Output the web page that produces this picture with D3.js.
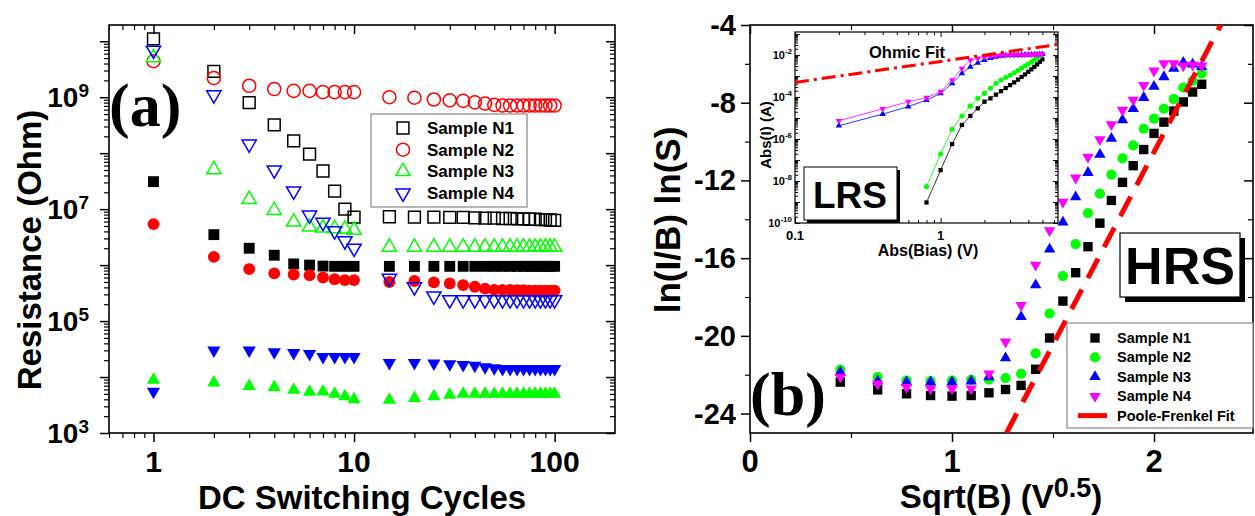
<!DOCTYPE html>
<html>
<head>
<meta charset="utf-8">
<script src="https://cdnjs.cloudflare.com/ajax/libs/d3/7.8.5/d3.min.js"></script>
<style>
body { margin: 0; background: #fff; }
text { font-family: "Liberation Sans", Arial, sans-serif; font-weight: bold; fill: #000; }
</style>
</head>
<body>
<svg id="fig" width="1255" height="516"></svg>
<script>
// ---------- panel (a) data : resistance vs DC switching cycles ----------
var cycles = [1,2,3,4,5,6,7,8,9,10,15,20,25,30,35,40,45,50,55,60,65,70,75,80,85,90,95,100];

var n1Hrs = [1.1e10,2.9e9,8e8,3.2e8,1.66e8,9.6e7,4.8e7,2.1e7,1.0e7,7.2e6,7.3e6,7.2e6,7.2e6,7.1e6,7.1e6,7.0e6,6.9e6,6.9e6,6.8e6,6.8e6,6.7e6,6.7e6,6.6e6,6.6e6,6.5e6,6.5e6,6.4e6,6.3e6];
var n1Lrs = [3.1e7,3.5e6,2.0e6,1.5e6,1.05e6,1.0e6,9.6e5,9.5e5,9.5e5,9.5e5,9.5e5,9.5e5,9.5e5,9.5e5,9.5e5,9.5e5,9.5e5,9.5e5,9.5e5,9.5e5,9.5e5,9.5e5,9.5e5,9.5e5,9.5e5,9.5e5,9.5e5,9.5e5];
var n2Hrs = [4.4e9,2.2e9,1.6e9,1.4e9,1.3e9,1.3e9,1.23e9,1.23e9,1.23e9,1.23e9,1.0e9,9.8e8,9.1e8,8.8e8,8.6e8,8.1e8,7.7e8,7.3e8,7.1e8,7.1e8,7.1e8,7.1e8,7.1e8,7.1e8,7.1e8,7.1e8,7.1e8,7.1e8];
var n2Lrs = [5.4e6,1.4e6,8.5e5,7.1e5,6.8e5,6.6e5,6.0e5,5.6e5,5.4e5,5.4e5,5.0e5,5.2e5,4.9e5,4.7e5,4.4e5,4.1e5,3.8e5,3.6e5,3.6e5,3.6e5,3.55e5,3.55e5,3.5e5,3.5e5,3.5e5,3.5e5,3.5e5,3.5e5];
var n3Hrs = [5.1e9,5.1e7,1.5e7,9.5e6,5.9e6,4.8e6,4.6e6,4.5e6,4.4e6,4.2e6,2.1e6,2.1e6,2.1e6,2.1e6,2.1e6,2.1e6,2.1e6,2.1e6,2.1e6,2.1e6,2.1e6,2.1e6,2.1e6,2.1e6,2.1e6,2.1e6,2.1e6,2.1e6];
var n3Lrs = [8.9e3,7.9e3,6.9e3,6.6e3,5.9e3,5.4e3,5.5e3,5.0e3,4.5e3,4.0e3,3.9e3,4.2e3,4.5e3,4.8e3,5.0e3,5.0e3,5.0e3,5.0e3,5.0e3,5.0e3,5.0e3,5.0e3,5.0e3,5.0e3,5.0e3,5.0e3,5.0e3,5.0e3];
var n4Hrs = [6.9e9,1.1e9,1.45e8,5.0e7,2.1e7,7.8e6,5.8e6,4.1e6,2.7e6,2.0e6,5.8e5,4.1e5,2.8e5,2.4e5,2.4e5,2.4e5,2.4e5,2.4e5,2.4e5,2.4e5,2.4e5,2.4e5,2.4e5,2.4e5,2.4e5,2.4e5,2.4e5,2.4e5];
var n4Lrs = [5.5e3,3.0e4,3.0e4,2.8e4,2.7e4,2.6e4,2.3e4,2.3e4,2.3e4,2.3e4,1.8e4,1.8e4,1.75e4,1.7e4,1.65e4,1.6e4,1.5e4,1.45e4,1.4e4,1.4e4,1.4e4,1.4e4,1.4e4,1.4e4,1.4e4,1.4e4,1.4e4,1.4e4];

var legendA = ["Sample N1","Sample N2","Sample N3","Sample N4"];

// ---------- panel (b) data : Poole-Frenkel plot ----------
var sqrtBias = [0.447,0.632,0.775,0.894,1.0,1.095,1.183,1.265,1.342,1.414,1.483,1.549,1.612,1.673,1.732,1.789,1.844,1.897,1.949,2.0,2.049,2.098,2.145,2.191,2.236];
var pfN1 = [-22.38,-22.78,-22.98,-23.07,-23.10,-23.07,-22.93,-22.76,-22.55,-21.72,-20.11,-18.21,-16.75,-15.41,-14.20,-13.03,-12.10,-11.24,-10.41,-9.58,-9.00,-8.43,-7.96,-7.45,-7.05];
var pfN2 = [-21.74,-22.12,-22.30,-22.33,-22.30,-22.26,-22.25,-22.17,-21.95,-20.90,-18.85,-16.92,-15.28,-13.68,-12.68,-11.70,-10.87,-10.20,-9.34,-8.82,-8.31,-7.82,-7.22,-6.88,-6.50];
var pfN3 = [-21.87,-22.33,-22.38,-22.38,-22.38,-22.33,-22.12,-21.14,-19.02,-17.38,-15.54,-14.15,-12.85,-11.60,-10.67,-9.84,-8.89,-8.31,-7.74,-7.17,-6.67,-6.24,-5.93,-6.02,-6.15];
var pfN4 = [-22.12,-22.47,-22.64,-22.72,-22.72,-22.72,-21.95,-20.31,-18.42,-16.35,-14.58,-13.11,-11.87,-10.79,-9.89,-9.12,-8.38,-7.86,-7.10,-6.36,-5.98,-5.98,-6.10,-6.05,-6.10];
var pfFitX = [1.27, 2.33];
var pfFitY = [-25, -4];
var legendB = ["Sample N1","Sample N2","Sample N3","Sample N4","Poole-Frenkel Fit"];

// ---------- inset data : LRS I-V ----------
var bias = [0.2,0.4,0.6,0.8,1.0,1.2,1.4,1.6,1.8,2.0,2.2,2.4,2.6,2.8,3.0,3.2,3.4,3.6,3.8,4.0,4.2,4.4,4.6,4.8,5.0];
var ivN4 = [7.4e-6,2.75e-5,6.0e-5,9.3e-5,1.8e-4,6.5e-4,2.3e-3,5.8e-3,7.0e-3,8.0e-3,8.7e-3,9.3e-3,9.6e-3,9.8e-3,1.0e-2,1.0e-2,1.02e-2,1.03e-2,1.04e-2,1.05e-2,1.06e-2,1.07e-2,1.08e-2,1.09e-2,1.1e-2];
var ivN3 = [4.3e-6,1.55e-5,3.5e-5,7.2e-5,1.5e-4,4.5e-4,1.35e-3,2.75e-3,4.3e-3,5.8e-3,7.2e-3,8.3e-3,9.2e-3,9.6e-3,9.9e-3,1.0e-2,1.02e-2,1.03e-2,1.04e-2,1.05e-2,1.06e-2,1.07e-2,1.08e-2,1.09e-2,1.1e-2];
var ivBiasLow = [0.8,1.0,1.2,1.4,1.6,1.8,2.0,2.2,2.4,2.6,2.8,3.0,3.2,3.4,3.6,3.8,4.0,4.2,4.4,4.6,4.8,5.0];
var ivN2 = [5.4e-9,1.95e-7,2.9e-6,1.26e-5,3.7e-5,8.7e-5,1.5e-4,2.6e-4,4.5e-4,6.5e-4,8.5e-4,1.1e-3,1.45e-3,1.85e-3,2.4e-3,3.0e-3,3.8e-3,4.7e-3,5.9e-3,7.4e-3,9.1e-3,1.12e-2];
var ivN1 = [9.5e-10,3.3e-8,5.8e-7,4.7e-6,1.26e-5,2.9e-5,6.0e-5,8.7e-5,1.3e-4,1.9e-4,2.7e-4,3.7e-4,5.0e-4,6.8e-4,9.1e-4,1.2e-3,1.6e-3,2.1e-3,2.75e-3,3.6e-3,4.8e-3,6.3e-3];
var ohmicX = [0.1, 6.4];
var ohmicY = [5e-4, 3.2e-2];

var svg = d3.select("#fig");

function sym(type, size){
  return d3.symbol().type(type).size(size)();
}
// draw markers for one series
function markers(g, xs, ys, sx, sy, shape, size, color, filled, down){
  g.selectAll(null)
    .data(xs.map((x, i) => [x, ys[i]]))
    .join("path")
    .attr("d", sym(shape, size))
    .attr("transform", d => `translate(${sx(d[0])},${sy(d[1])})` + (down ? " rotate(180)" : ""))
    .attr("fill", filled ? color : "none")
    .attr("stroke", filled ? "none" : color)
    .attr("stroke-width", 1.5);
}

function ticks(g, axis, tx, ty, values, len, w){
  g.append("g")
    .attr("transform", `translate(${tx},${ty})`)
    .call(axis.tickValues(values).tickSize(len).tickFormat(""))
    .call(s => s.select(".domain").remove())
    .call(s => s.selectAll("line").attr("stroke-width", w));
}

function minorsLog(a, b){
  var out = [];
  for (var e = a; e <= b; e++)
    for (var m = 2; m <= 9; m++) out.push(m * Math.pow(10, e));
  return out;
}

// ================= panel (a) =================
var xa = d3.scaleLog().domain([0.6, 200]).range([109, 615]);
var ya = d3.scaleLog().domain([1e3, 1.95e10]).range([433, 25]);
var ga = svg.append("g");

var xaMaj = [1, 10, 100];
var xaMin = minorsLog(-1, 2).filter(v => v > 0.6 && v < 200);
var yaMaj = [1e3,1e4,1e5,1e6,1e7,1e8,1e9,1e10];
var yaMin = minorsLog(3, 10).filter(v => v < 1.95e10);

ticks(ga, d3.axisBottom(xa), 0, 433, xaMaj, 9, 1.5);
ticks(ga, d3.axisBottom(xa), 0, 433, xaMin, 5, 1.2);
ticks(ga, d3.axisBottom(xa), 0, 25, xaMaj, 9, 1.5);
ticks(ga, d3.axisBottom(xa), 0, 25, xaMin, 5, 1.2);
ticks(ga, d3.axisLeft(ya), 109, 0, yaMaj, 9, 1.5);
ticks(ga, d3.axisLeft(ya), 109, 0, yaMin, 5, 1.2);
ticks(ga, d3.axisLeft(ya), 615, 0, yaMaj, 9, 1.5);
ticks(ga, d3.axisLeft(ya), 615, 0, yaMin, 5, 1.2);

ga.append("rect").attr("x", 109).attr("y", 25).attr("width", 506).attr("height", 408)
  .attr("fill", "none").attr("stroke", "#000").attr("stroke-width", 1.6);

// tick labels
xaMaj.forEach(v => {
  ga.append("text").attr("x", xa(v)).attr("y", 472).attr("text-anchor", "middle")
    .style("font-size", "30px").text(v);
});
[3,5,7,9].forEach(e => {
  var t = ga.append("text").attr("x", 89).attr("y", ya(Math.pow(10, e)) + 10)
    .attr("text-anchor", "end").style("font-size", "28px");
  t.append("tspan").text("10");
  t.append("tspan").attr("dy", -10).style("font-size", "19px").text(e);
});
ga.append("text").attr("x", 362).attr("y", 509).attr("text-anchor", "middle")
  .style("font-size", "33px").text("DC Switching Cycles");
ga.append("text").attr("transform", "translate(41,250) rotate(-90)").attr("text-anchor", "middle")
  .style("font-size", "33px").text("Resistance (Ohm)");

var seriesA = [
  {hrs: n1Hrs, lrs: n1Lrs, color: "#000000", shape: d3.symbolSquare, open: 140, fill: 118, down: false},
  {hrs: n2Hrs, lrs: n2Lrs, color: "#ff0000", shape: d3.symbolCircle, open: 135, fill: 110, down: false},
  {hrs: n3Hrs, lrs: n3Lrs, color: "#00ff00", shape: d3.symbolTriangle, open: 88, fill: 76, down: false},
  {hrs: n4Hrs, lrs: n4Lrs, color: "#0000ff", shape: d3.symbolTriangle, open: 88, fill: 76, down: true}
];
seriesA.forEach(s => {
  markers(ga, cycles, s.hrs, xa, ya, s.shape, s.open, s.color, false, s.down);
  markers(ga, cycles, s.lrs, xa, ya, s.shape, s.fill, s.color, true, s.down);
});

// legend (a)
var la = ga.append("g");
la.append("rect").attr("x", 371).attr("y", 114).attr("width", 156).attr("height", 93)
  .attr("fill", "#fff").attr("stroke", "#888").attr("stroke-width", 1.2);
legendA.forEach((name, i) => {
  var s = seriesA[i], cy = 128 + i * 21.7;
  la.append("path").attr("d", sym(s.shape, s.open))
    .attr("transform", `translate(403,${cy})` + (s.down ? " rotate(180)" : ""))
    .attr("fill", "none").attr("stroke", s.color).attr("stroke-width", 1.5);
  la.append("text").attr("x", 427).attr("y", cy + 6).style("font-size", "17px").text(name);
});
ga.append("text").attr("x", 109).attr("y", 126)
  .style("font-family", "'Liberation Serif', 'Times New Roman', serif").style("font-size", "62px")
  .text("(a)");

// ================= panel (b) =================
var xb = d3.scaleLinear().domain([0, 2.49]).range([750, 1253]);
var yb = d3.scaleLinear().domain([-25, -4]).range([433, 25]);
var gb = svg.append("g");

var xbMaj = [0, 1, 2], xbMin = [0.5, 1.5];
var ybMaj = [-24, -20, -16, -12, -8, -4], ybMin = [-22, -18, -14, -10, -6];
ticks(gb, d3.axisBottom(xb), 0, 433, xbMaj, 9, 1.5);
ticks(gb, d3.axisBottom(xb), 0, 433, xbMin, 5, 1.2);
ticks(gb, d3.axisBottom(xb), 0, 25, xbMaj, 9, 1.5);
ticks(gb, d3.axisBottom(xb), 0, 25, xbMin, 5, 1.2);
ticks(gb, d3.axisLeft(yb), 750, 0, ybMaj, 9, 1.5);
ticks(gb, d3.axisLeft(yb), 750, 0, ybMin, 5, 1.2);
ticks(gb, d3.axisLeft(yb), 1253, 0, ybMaj, 9, 1.5);
ticks(gb, d3.axisLeft(yb), 1253, 0, ybMin, 5, 1.2);

gb.append("rect").attr("x", 750).attr("y", 25).attr("width", 503).attr("height", 408)
  .attr("fill", "none").attr("stroke", "#000").attr("stroke-width", 1.6);

xbMaj.forEach(v => {
  gb.append("text").attr("x", xb(v)).attr("y", 472).attr("text-anchor", "middle")
    .style("font-size", "31px").text(v);
});
ybMaj.forEach(v => {
  gb.append("text").attr("x", 736).attr("y", yb(v) + 10).attr("text-anchor", "end")
    .style("font-size", "29px").text(v);
});
var xl = gb.append("text").attr("x", 1001).attr("y", 508).attr("text-anchor", "middle").style("font-size", "33px");
xl.append("tspan").text("Sqrt(B) (V");
xl.append("tspan").attr("dy", -11).style("font-size", "27px").text("0.5");
xl.append("tspan").attr("dy", 11).text(")");
gb.append("text").attr("transform", "translate(680,220) rotate(-90)").attr("text-anchor", "middle")
  .style("font-size", "35px").text("ln(I/B) ln(S)");

svg.append("clipPath").attr("id", "clipB").append("rect")
  .attr("x", 750).attr("y", 25).attr("width", 503).attr("height", 408);

var seriesB = [
  {ys: pfN1, color: "#000000", shape: d3.symbolSquare, size: 88, down: false},
  {ys: pfN2, color: "#00ff00", shape: d3.symbolCircle, size: 82, down: false},
  {ys: pfN3, color: "#0000ff", shape: d3.symbolTriangle, size: 56, down: false},
  {ys: pfN4, color: "#ff00ff", shape: d3.symbolTriangle, size: 56, down: true}
];
seriesB.forEach(s => markers(gb, sqrtBias, s.ys, xb, yb, s.shape, s.size, s.color, true, s.down));

gb.append("path")
  .datum(pfFitX.map((x, i) => [x, pfFitY[i]]))
  .attr("clip-path", "url(#clipB)")
  .attr("d", d3.line().x(d => xb(d[0])).y(d => yb(d[1])))
  .attr("fill", "none").attr("stroke", "#ff0000").attr("stroke-width", 5)
  .attr("stroke-dasharray", "22,13");

// legend (b)
var lb = gb.append("g");
lb.append("rect").attr("x", 1067).attr("y", 323).attr("width", 186).attr("height", 105)
  .attr("fill", "#fff").attr("stroke", "#888").attr("stroke-width", 1.2);
legendB.forEach((name, i) => {
  var cy = 338 + i * 19.4;
  if (i < 4) {
    var s = seriesB[i];
    lb.append("path").attr("d", sym(s.shape, s.size))
      .attr("transform", `translate(1095,${cy})` + (s.down ? " rotate(180)" : ""))
      .attr("fill", s.color);
  } else {
    lb.append("line").attr("x1", 1078).attr("x2", 1107).attr("y1", cy).attr("y2", cy)
      .attr("stroke", "#ff0000").attr("stroke-width", 5);
  }
  lb.append("text").attr("x", 1117).attr("y", cy + 5).style("font-size", "14.5px").text(name);
});

// HRS box
gb.append("rect").attr("x", 1125).attr("y", 238).attr("width", 120).attr("height", 64).attr("fill", "#000");
gb.append("rect").attr("x", 1120).attr("y", 233).attr("width", 120).attr("height", 64)
  .attr("fill", "#fff").attr("stroke", "#000").attr("stroke-width", 1.2);
gb.append("text").attr("x", 1180).attr("y", 284).attr("text-anchor", "middle")
  .style("font-size", "52px").text("HRS");

gb.append("text").attr("x", 750).attr("y", 415)
  .style("font-family", "'Liberation Serif', 'Times New Roman', serif").style("font-size", "62px")
  .text("(b)");

// ================= inset =================
var xi = d3.scaleLog().domain([0.1, 6.4]).range([795, 1058]);
var yi = d3.scaleLog().domain([1e-10, 0.126]).range([223, 32]);
var gi = svg.append("g");
gi.append("rect").attr("x", 795).attr("y", 32).attr("width", 263).attr("height", 191)
  .attr("fill", "#fff").attr("stroke", "#000").attr("stroke-width", 1.2);

var xiMaj = [0.1, 1], xiMin = minorsLog(-1, 0).filter(v => v < 6.4);
var yiMaj = [1e-10,1e-9,1e-8,1e-7,1e-6,1e-5,1e-4,1e-3,1e-2,1e-1];
var yiMin = minorsLog(-10, -1).filter(v => v < 0.126);
ticks(gi, d3.axisTop(xi), 0, 223, xiMaj, 5, 1);
ticks(gi, d3.axisTop(xi), 0, 223, xiMin, 3, 1);
ticks(gi, d3.axisBottom(xi), 0, 32, xiMaj, 5, 1);
ticks(gi, d3.axisBottom(xi), 0, 32, xiMin, 3, 1);
ticks(gi, d3.axisRight(yi), 795, 0, yiMaj, 5, 1);
ticks(gi, d3.axisRight(yi), 795, 0, yiMin, 3, 1);
ticks(gi, d3.axisLeft(yi), 1058, 0, yiMaj, 5, 1);
ticks(gi, d3.axisLeft(yi), 1058, 0, yiMin, 3, 1);

xiMaj.forEach(v => {
  gi.append("text").attr("x", xi(v)).attr("y", 240).attr("text-anchor", "middle")
    .style("font-size", "13px").text(v);
});
[-2,-4,-6,-8,-10].forEach(e => {
  var t = gi.append("text").attr("x", 792).attr("y", yi(Math.pow(10, e)) + 4)
    .attr("text-anchor", "end").style("font-size", "11px");
  t.append("tspan").text("10");
  t.append("tspan").attr("dy", -5).style("font-size", "8px").text(e);
});
gi.append("text").attr("x", 928).attr("y", 256).attr("text-anchor", "middle")
  .style("font-size", "16px").text("Abs(Bias) (V)");
gi.append("text").attr("transform", "translate(771,135) rotate(-90)").attr("text-anchor", "middle")
  .style("font-size", "15px").text("Abs(I) (A)");

svg.append("clipPath").attr("id", "clipI").append("rect")
  .attr("x", 795).attr("y", 32).attr("width", 263).attr("height", 191);

var line = d3.line().x(d => xi(d[0])).y(d => yi(d[1]));
var seriesI = [
  {xs: ivBiasLow, ys: ivN1, color: "#000000", shape: d3.symbolSquare, size: 18, down: false},
  {xs: ivBiasLow, ys: ivN2, color: "#00ff00", shape: d3.symbolCircle, size: 20, down: false},
  {xs: bias, ys: ivN3, color: "#0000ff", shape: d3.symbolTriangle, size: 18, down: false},
  {xs: bias, ys: ivN4, color: "#ff00ff", shape: d3.symbolTriangle, size: 18, down: true}
];
seriesI.forEach(s => {
  gi.append("path").datum(s.xs.map((x, i) => [x, s.ys[i]]))
    .attr("d", line).attr("fill", "none").attr("stroke", s.color).attr("stroke-width", 0.8);
  markers(gi, s.xs, s.ys, xi, yi, s.shape, s.size, s.color, true, s.down);
});

gi.append("path").datum(ohmicX.map((x, i) => [x, ohmicY[i]]))
  .attr("clip-path", "url(#clipI)")
  .attr("d", line).attr("fill", "none").attr("stroke", "#ff0000").attr("stroke-width", 3)
  .attr("stroke-dasharray", "14,5,3,5");
gi.append("text").attr("x", 869).attr("y", 58).style("font-size", "16.5px").text("Ohmic Fit");

// LRS box
gi.append("rect").attr("x", 807).attr("y", 170).attr("width", 93).attr("height", 53).attr("fill", "#000");
gi.append("rect").attr("x", 804).attr("y", 167).attr("width", 93).attr("height", 53)
  .attr("fill", "#fff").attr("stroke", "#000").attr("stroke-width", 1);
gi.append("text").attr("x", 850).attr("y", 208).attr("text-anchor", "middle")
  .style("font-size", "37px").text("LRS");
</script>
</body>
</html>
